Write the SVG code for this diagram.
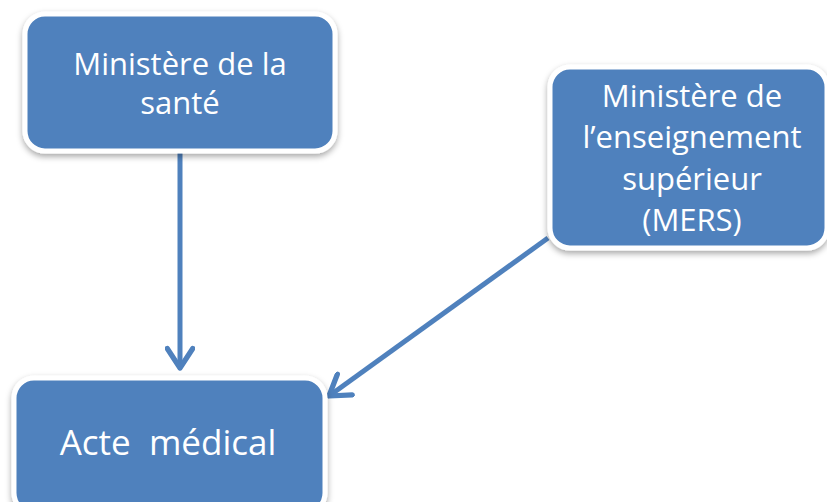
<svg xmlns="http://www.w3.org/2000/svg" width="827" height="502" viewBox="0 0 827 502">
<defs>
<filter id="sh" x="-10%" y="-10%" width="120%" height="130%">
<feDropShadow dx="0" dy="3" stdDeviation="3" flood-color="#000" flood-opacity="0.35"/>
</filter>
<marker id="ah" viewBox="0 0 20 20" refX="16" refY="10" markerWidth="30" markerHeight="30" markerUnits="userSpaceOnUse" orient="auto">
<path d="M3,1.5 L16,10 L3,18.5" fill="none" stroke="#4F81BD" stroke-width="3.5" stroke-linecap="round" stroke-linejoin="round"/>
</marker>
<style>
.box{fill:#4F81BD;stroke:#fff;stroke-width:5;filter:url(#sh)}
.t{font-family:"Open Sans","Liberation Sans",sans-serif;fill:#fff;text-anchor:middle}
.c{stroke:#4F81BD;stroke-width:5;fill:none;marker-end:url(#ah)}
</style>
</defs>
<rect width="827" height="502" fill="#fff"/>
<g id="connectors">
<line class="c" x1="180" y1="153" x2="180" y2="368"/>
<line class="c" x1="548" y1="238" x2="329" y2="396"/>
</g>
<g id="sante">
<rect class="box" x="25" y="14" width="310" height="137" rx="20"/>
<text class="t" font-size="31" x="180" y="75">Ministère de la</text>
<text class="t" font-size="31" x="180" y="114">santé</text>
</g>
<g id="mers">
<rect class="box" x="550" y="67" width="277" height="181" rx="20"/>
<text class="t" font-size="31" x="692" y="107">Ministère de</text>
<text class="t" font-size="31" x="692" y="148">l’enseignement</text>
<text class="t" font-size="31" x="692" y="190">supérieur</text>
<text class="t" font-size="31" x="692" y="231">(MERS)</text>
</g>
<g id="acte">
<rect class="box" x="14" y="378" width="311" height="135" rx="20"/>
<text class="t" font-size="35" x="168" y="455" xml:space="preserve">Acte  médical</text>
</g>
</svg>
